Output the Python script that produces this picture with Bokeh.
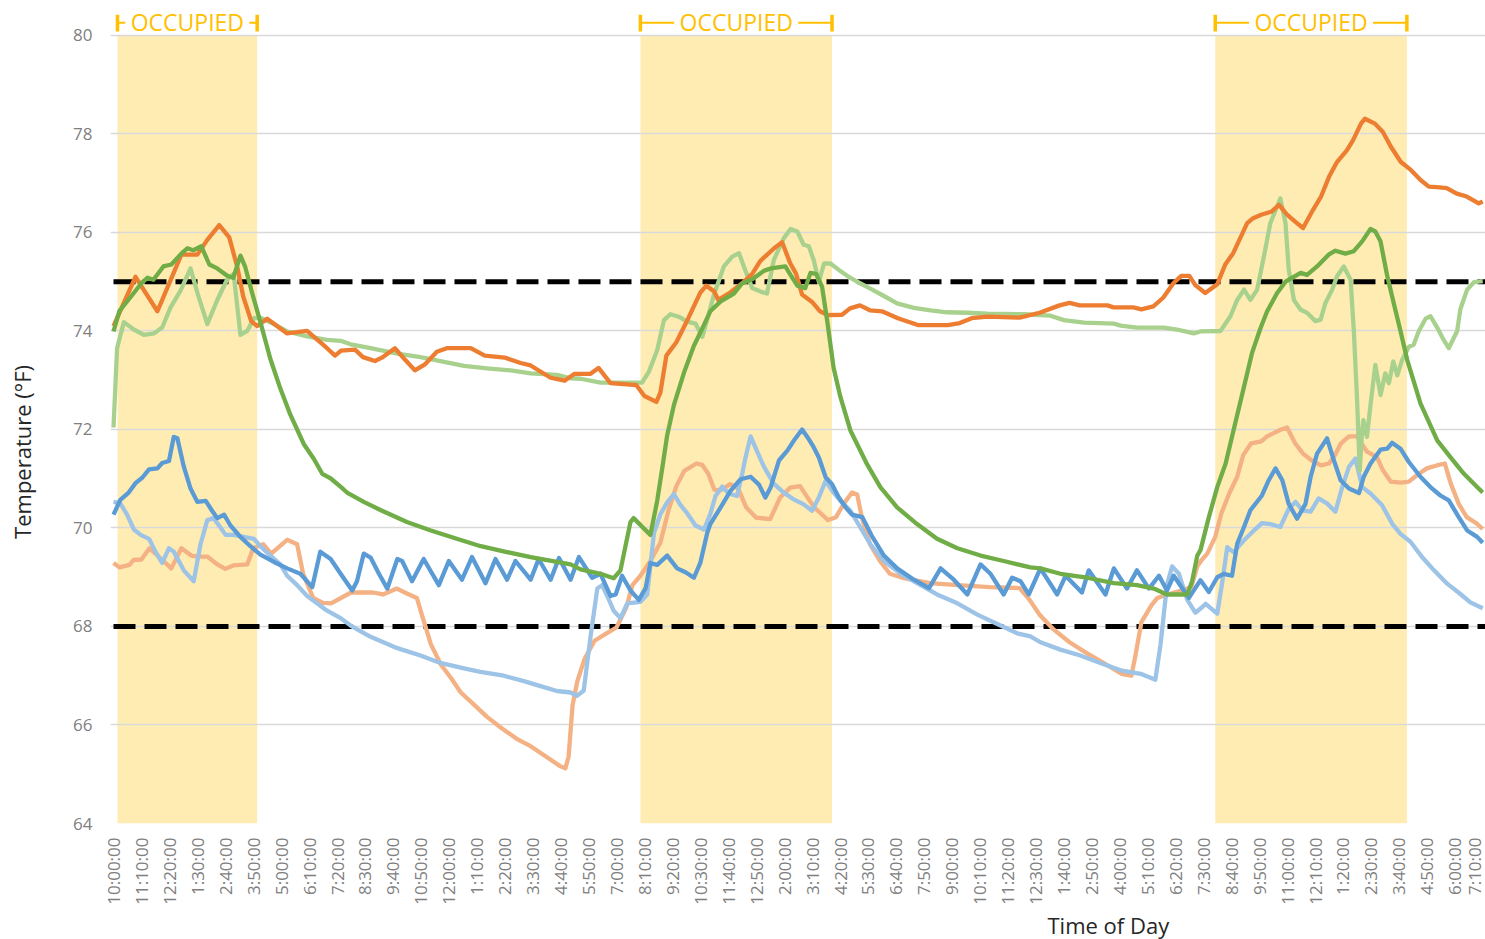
import math
from bokeh.plotting import figure
from bokeh.layouts import row
from bokeh.models import Range1d, FixedTicker, Title
from bokeh.embed import file_html
from bokeh.resources import INLINE
from bokeh.core.properties import value

# ---------------- data ----------------
# x = minutes since the first sample (10:00:00), one tick label every 70 minutes
tick_labels = ["10:00:00", "11:10:00", "12:20:00", "1:30:00", "2:40:00", "3:50:00", "5:00:00",
               "6:10:00", "7:20:00", "8:30:00", "9:40:00", "10:50:00", "12:00:00", "1:10:00",
               "2:20:00", "3:30:00", "4:40:00", "5:50:00", "7:00:00", "8:10:00", "9:20:00",
               "10:30:00", "11:40:00", "12:50:00", "2:00:00", "3:10:00", "4:20:00", "5:30:00",
               "6:40:00", "7:50:00", "9:00:00", "10:10:00", "11:20:00", "12:30:00", "1:40:00",
               "2:50:00", "4:00:00", "5:10:00", "6:20:00", "7:30:00", "8:40:00", "9:50:00",
               "11:00:00", "12:10:00", "1:20:00", "2:30:00", "3:40:00", "4:50:00", "6:00:00",
               "7:10:00"]
tick_step = 70

occupied_start = [10, 1320, 2760]
occupied_end = [360, 1800, 3240]
occupied_text = "OCCUPIED"

setpoints = [75, 68]

y_title = "Temperature (°F)"
x_title = "Time of Day"

dark_orange = [(0,74.10),(55,75.10),(110,74.40),(170,75.55),(210,75.55),(235,75.85),(265,76.15),(290,75.90),(310,75.30),(325,74.70),(345,74.20),(360,74.10),(385,74.25),(435,73.95),(485,74.00),(535,73.65),(555,73.50),(570,73.60),(605,73.62),(625,73.47),(655,73.39),(675,73.47),(705,73.65),(730,73.42),(755,73.20),(780,73.32),(810,73.58),(835,73.65),(895,73.65),(930,73.50),(980,73.46),(1020,73.35),(1045,73.30),(1095,73.05),(1130,72.99),(1155,73.13),(1195,73.13),(1215,73.25),(1245,72.94),(1310,72.90),(1330,72.68),(1360,72.56),(1370,72.75),(1385,73.50),(1410,73.77),(1440,74.26),(1470,74.78),(1485,74.92),(1505,74.80),(1515,74.63),(1545,74.78),(1575,74.97),(1600,75.16),(1620,75.42),(1655,75.68),(1675,75.80),(1695,75.38),(1710,75.16),(1725,74.74),(1750,74.59),(1770,74.40),(1790,74.32),(1825,74.33),(1845,74.46),(1870,74.52),(1895,74.42),(1925,74.40),(1965,74.26),(2015,74.12),(2090,74.12),(2120,74.16),(2150,74.26),(2190,74.29),(2270,74.27),(2320,74.37),(2370,74.52),(2395,74.57),(2420,74.52),(2490,74.52),(2505,74.48),(2555,74.48),(2575,74.44),(2605,74.50),(2630,74.68),(2655,74.97),(2675,75.12),(2695,75.12),(2710,74.93),(2735,74.77),(2765,74.95),(2785,75.35),(2805,75.58),(2840,76.19),(2855,76.29),(2875,76.36),(2900,76.42),(2920,76.56),(2940,76.36),(2960,76.22),(2980,76.09),(3005,76.46),(3025,76.73),(3045,77.13),(3065,77.43),(3090,77.67),(3105,77.87),(3125,78.21),(3135,78.31),(3160,78.21),(3180,78.04),(3200,77.74),(3225,77.43),(3250,77.27),(3275,77.06),(3295,76.93),(3315,76.92),(3340,76.90),(3365,76.79),(3390,76.73),(3420,76.59),(3430,76.63)]

light_orange = [(0,69.29),(15,69.20),(40,69.25),(50,69.35),(70,69.36),(90,69.59),(105,69.48),(125,69.33),(145,69.18),(170,69.59),(195,69.44),(210,69.42),(235,69.42),(260,69.26),(280,69.17),(300,69.24),(335,69.26),(350,69.59),(375,69.67),(395,69.48),(435,69.76),(460,69.67),(475,69.07),(500,68.58),(525,68.48),(545,68.47),(595,68.69),(650,68.69),(675,68.65),(710,68.77),(735,68.67),(760,68.58),(775,68.17),(795,67.64),(820,67.23),(845,66.96),(870,66.66),(905,66.40),(935,66.17),(970,65.95),(1010,65.72),(1045,65.57),(1085,65.35),(1120,65.16),(1132,65.12),(1140,65.35),(1150,66.40),(1162,66.89),(1180,67.34),(1205,67.71),(1235,67.86),(1260,67.98),(1285,68.39),(1300,68.84),(1320,69.03),(1345,69.33),(1370,69.70),(1390,70.35),(1410,70.85),(1430,71.16),(1460,71.31),(1475,71.28),(1490,71.10),(1505,70.78),(1520,70.76),(1545,70.89),(1565,70.80),(1585,70.42),(1610,70.21),(1645,70.18),(1670,70.62),(1695,70.82),(1720,70.85),(1740,70.60),(1755,70.42),(1770,70.31),(1790,70.16),(1810,70.22),(1830,70.50),(1850,70.72),(1863,70.68),(1875,70.20),(1895,69.67),(1920,69.33),(1945,69.07),(1980,68.98),(2045,68.88),(2115,68.84),(2195,68.80),(2270,68.78),(2295,68.54),(2320,68.24),(2355,67.94),(2395,67.68),(2440,67.45),(2480,67.26),(2525,67.04),(2550,67.00),(2560,67.41),(2575,68.09),(2600,68.43),(2615,68.58),(2640,68.65),(2675,68.73),(2700,68.80),(2715,69.22),(2725,69.34),(2740,69.48),(2760,69.82),(2775,70.29),(2795,70.70),(2815,71.04),(2830,71.48),(2850,71.72),(2875,71.76),(2890,71.86),(2905,71.92),(2925,72.00),(2940,72.04),(2960,71.72),(2980,71.51),(3000,71.38),(3025,71.27),(3045,71.31),(3060,71.48),(3075,71.72),(3095,71.86),(3115,71.86),(3140,71.55),(3165,71.44),(3180,71.17),(3200,70.94),(3225,70.92),(3245,70.94),(3265,71.07),(3290,71.21),(3315,71.27),(3335,71.31),(3350,70.90),(3370,70.49),(3390,70.22),(3415,70.09),(3430,69.98)]

dark_green = [(0,73.99),(15,74.41),(45,74.71),(70,74.97),(85,75.08),(100,75.04),(125,75.31),(145,75.35),(170,75.57),(185,75.68),(200,75.64),(220,75.72),(240,75.35),(260,75.27),(285,75.12),(300,75.08),(318,75.53),(330,75.30),(347,74.78),(368,74.18),(393,73.43),(418,72.83),(443,72.30),(477,71.70),(502,71.40),(523,71.10),(545,71.00),(570,70.83),(585,70.72),(627,70.53),(670,70.36),(735,70.12),(795,69.95),(860,69.78),(920,69.63),(980,69.52),(1045,69.41),(1080,69.36),(1145,69.26),(1170,69.16),(1220,69.07),(1253,68.98),(1270,69.14),(1295,70.12),(1303,70.20),(1325,70.02),(1345,69.86),(1362,70.55),(1375,71.23),(1387,71.88),(1404,72.50),(1429,73.15),(1454,73.70),(1479,74.12),(1495,74.40),(1521,74.60),(1554,74.76),(1575,74.97),(1600,75.05),(1629,75.22),(1646,75.27),(1683,75.31),(1696,75.14),(1713,74.92),(1733,74.87),(1746,75.18),(1760,75.16),(1775,74.90),(1788,74.20),(1804,73.25),(1821,72.66),(1846,71.98),(1888,71.29),(1921,70.83),(1963,70.42),(2013,70.08),(2063,69.78),(2114,69.59),(2172,69.44),(2230,69.33),(2297,69.20),(2322,69.18),(2372,69.07),(2439,68.99),(2506,68.88),(2564,68.84),(2606,68.77),(2639,68.65),(2690,68.65),(2702,68.92),(2715,69.44),(2723,69.55),(2744,70.22),(2765,70.83),(2786,71.31),(2806,71.99),(2832,72.87),(2852,73.55),(2873,74.05),(2890,74.40),(2915,74.77),(2936,75.00),(2974,75.18),(2990,75.14),(3015,75.31),(3044,75.55),(3061,75.63),(3086,75.57),(3107,75.62),(3128,75.82),(3149,76.07),(3161,76.02),(3174,75.82),(3191,75.11),(3207,74.57),(3224,74.00),(3241,73.41),(3274,72.53),(3316,71.78),(3349,71.44),(3383,71.10),(3416,70.83),(3430,70.72)]

light_green = [(0,72.04),(9,73.65),(26,74.18),(51,74.03),(76,73.92),(101,73.95),(122,74.07),(143,74.48),(168,74.82),(193,75.27),(210,74.78),(235,74.14),(260,74.63),(285,75.05),(301,75.16),(318,73.92),(335,74.00),(352,74.26),(368,74.27),(402,74.14),(435,73.99),(485,73.89),(535,73.82),(569,73.80),(594,73.73),(644,73.65),(711,73.54),(769,73.47),(819,73.39),(878,73.29),(936,73.24),(995,73.20),(1045,73.14),(1111,73.11),(1145,73.04),(1170,73.03),(1220,72.95),(1324,72.95),(1341,73.17),(1362,73.61),(1379,74.22),(1395,74.34),(1416,74.29),(1437,74.19),(1458,74.15),(1475,73.88),(1487,74.22),(1504,74.73),(1529,75.31),(1550,75.51),(1567,75.58),(1579,75.31),(1600,74.87),(1621,74.80),(1637,74.76),(1654,75.44),(1679,75.88),(1696,76.07),(1713,76.02),(1729,75.75),(1742,75.72),(1754,75.44),(1767,75.00),(1780,75.37),(1796,75.37),(1817,75.24),(1838,75.12),(1863,75.00),(1896,74.86),(1930,74.71),(1963,74.56),(2005,74.47),(2047,74.42),(2088,74.38),(2139,74.37),(2189,74.35),(2281,74.34),(2347,74.31),(2381,74.22),(2431,74.17),(2506,74.15),(2523,74.11),(2564,74.07),(2631,74.07),(2664,74.03),(2706,73.95),(2723,73.99),(2773,74.00),(2798,74.30),(2815,74.63),(2832,74.84),(2848,74.63),(2865,74.84),(2882,75.52),(2898,76.19),(2923,76.69),(2936,76.19),(2944,75.25),(2957,74.63),(2974,74.43),(2990,74.37),(3011,74.20),(3024,74.23),(3036,74.57),(3053,74.84),(3065,75.11),(3082,75.31),(3099,75.04),(3107,74.03),(3115,72.66),(3122,71.17),(3127,71.85),(3131,72.19),(3140,71.85),(3149,72.50),(3161,73.31),(3174,72.70),(3186,73.14),(3195,72.94),(3206,73.38),(3216,73.10),(3228,73.41),(3245,73.68),(3257,73.72),(3270,74.00),(3287,74.25),(3299,74.30),(3316,74.07),(3330,73.85),(3345,73.65),(3366,74.00),(3374,74.44),(3391,74.84),(3408,74.99),(3430,75.01)]

dark_blue = [(0,70.27),(17,70.57),(38,70.72),(55,70.91),(72,71.02),(89,71.19),(110,71.21),(122,71.32),(139,71.36),(151,71.85),(160,71.82),(176,71.25),(193,70.80),(210,70.53),(231,70.55),(247,70.35),(260,70.20),(277,70.27),(293,70.05),(318,69.82),(343,69.63),(368,69.46),(402,69.31),(435,69.18),(468,69.07),(498,68.80),(518,69.52),(544,69.37),(569,69.07),(598,68.73),(610,68.92),(627,69.48),(644,69.40),(665,69.07),(686,68.77),(711,69.37),(723,69.33),(748,68.92),(777,69.37),(815,68.84),(840,69.33),(873,68.95),(898,69.41),(932,68.88),(957,69.37),(986,68.95),(1007,69.33),(1045,68.95),(1065,69.37),(1095,68.95),(1116,69.39),(1145,68.95),(1166,69.41),(1199,68.99),(1220,69.07),(1245,68.62),(1258,68.65),(1274,69.03),(1295,68.73),(1316,68.54),(1333,68.78),(1345,69.29),(1362,69.25),(1387,69.44),(1412,69.18),(1433,69.10),(1454,68.99),(1470,69.29),(1487,69.89),(1495,70.08),(1521,70.42),(1546,70.76),(1571,70.99),(1596,71.04),(1617,70.88),(1633,70.62),(1646,70.82),(1667,71.37),(1688,71.57),(1704,71.77),(1725,72.00),(1742,71.80),(1754,71.64),(1767,71.43),(1784,71.03),(1800,70.89),(1817,70.62),(1834,70.42),(1850,70.27),(1876,70.22),(1901,69.82),(1930,69.44),(1963,69.18),(2005,68.95),(2043,68.78),(2072,69.18),(2105,68.95),(2139,68.65),(2172,69.26),(2197,69.07),(2230,68.65),(2251,68.99),(2272,68.92),(2293,68.65),(2322,69.18),(2364,68.65),(2385,69.03),(2426,68.69),(2443,69.14),(2485,68.65),(2506,69.18),(2539,68.77),(2564,69.14),(2594,68.77),(2619,69.03),(2639,68.73),(2656,69.03),(2694,68.58),(2723,68.94),(2744,68.70),(2765,69.00),(2781,69.07),(2802,69.03),(2815,69.68),(2832,70.02),(2848,70.36),(2877,70.66),(2894,70.97),(2911,71.21),(2928,70.97),(2944,70.49),(2965,70.19),(2986,70.49),(2999,71.04),(3015,71.51),(3040,71.82),(3057,71.38),(3074,70.97),(3095,70.80),(3120,70.71),(3132,71.04),(3149,71.31),(3174,71.59),(3191,71.61),(3203,71.73),(3224,71.61),(3245,71.34),(3274,71.04),(3299,70.83),(3324,70.66),(3345,70.56),(3370,70.22),(3391,69.95),(3416,69.82),(3430,69.70)]

light_blue = [(0,70.53),(17,70.50),(34,70.27),(51,69.97),(68,69.86),(89,69.78),(105,69.52),(122,69.29),(139,69.59),(151,69.52),(176,69.14),(201,68.92),(218,69.67),(235,70.16),(251,70.20),(268,70.01),(281,69.86),(301,69.86),(326,69.82),(352,69.78),(368,69.63),(393,69.44),(418,69.26),(435,69.03),(460,68.84),(485,68.62),(510,68.47),(535,68.32),(569,68.17),(594,68.02),(644,67.79),(711,67.56),(769,67.41),(819,67.26),(878,67.15),(919,67.08),(978,67.00),(1028,66.89),(1078,66.77),(1111,66.69),(1145,66.66),(1161,66.59),(1178,66.70),(1195,67.79),(1212,68.77),(1224,68.84),(1237,68.62),(1253,68.32),(1270,68.17),(1287,68.47),(1320,68.50),(1337,68.65),(1354,69.90),(1370,70.28),(1387,70.52),(1404,70.69),(1420,70.47),(1437,70.30),(1458,70.05),(1479,69.97),(1495,70.28),(1508,70.65),(1525,70.84),(1541,70.70),(1562,70.65),(1575,71.10),(1583,71.42),(1596,71.86),(1612,71.56),(1629,71.25),(1654,70.90),(1679,70.72),(1704,70.58),(1729,70.48),(1750,70.35),(1767,70.62),(1784,70.96),(1800,70.76),(1821,70.55),(1846,70.35),(1863,70.12),(1896,69.67),(1930,69.33),(1972,69.07),(2022,68.84),(2063,68.65),(2114,68.47),(2164,68.24),(2214,68.05),(2264,67.86),(2297,67.80),(2322,67.68),(2372,67.53),(2422,67.41),(2472,67.26),(2523,67.11),(2573,67.04),(2610,66.92),(2623,67.64),(2639,68.84),(2652,69.22),(2669,69.07),(2690,68.54),(2710,68.28),(2727,68.39),(2736,68.46),(2765,68.26),(2777,68.87),(2790,69.61),(2806,69.51),(2832,69.75),(2857,69.95),(2877,70.10),(2898,70.08),(2923,70.02),(2944,70.39),(2961,70.53),(2978,70.36),(2999,70.33),(3019,70.60),(3040,70.50),(3061,70.33),(3078,70.83),(3095,71.24),(3111,71.41),(3128,70.83),(3149,70.70),(3178,70.46),(3203,70.09),(3224,69.88),(3249,69.72),(3278,69.41),(3308,69.14),(3341,68.87),(3374,68.66),(3399,68.49),(3430,68.37)]

series = [
    (light_orange, "#F4B183"),
    (light_blue, "#9DC3E6"),
    (dark_blue, "#5B9BD5"),
    (light_green, "#A9D18E"),
    (dark_orange, "#ED7D31"),
    (dark_green, "#70AD47"),
]

# ---------------- layout ----------------
W, H = 1485, 939
SIDE = 62                 # narrow strip holding the vertical axis title
FRAME_LEFT = 110          # page x of the plot frame's left edge
BB = 115
FRAME_H = H - BB          # frame height (the row aligns both frames)
X0, X1 = -7.5, 3437.0
Y0, Y1 = 64.0, 80.71
FONT = "Open Sans"

# strip with the y-axis title (pixel-unit ranges matching its aligned frame)
side = figure(width=SIDE, height=H, output_backend="svg", toolbar_location=None, title=None,
              x_range=Range1d(0, SIDE), y_range=Range1d(0, FRAME_H),
              x_axis_location=None, y_axis_location=None, min_border=0)
side.outline_line_color = None
side.grid.visible = False
side.background_fill_color = "white"
side.border_fill_color = "white"
side.text(x=[21], y=[FRAME_H - 452], text=[y_title], angle=math.pi / 2,
          text_font=value(FONT), text_font_size="22px", text_color="#262626",
          text_align="center", text_baseline="middle")

PW = W - SIDE
BL = FRAME_LEFT - SIDE
p = figure(width=PW, height=H, output_backend="svg", toolbar_location=None, title=None,
           x_range=Range1d(X0, X1), y_range=Range1d(Y0, Y1),
           min_border_left=BL, min_border_right=0, min_border_top=0, min_border_bottom=BB)
p.outline_line_color = None
p.background_fill_color = "white"
p.border_fill_color = "white"

frame_w = PW - BL
min_per_px = (X1 - X0) / frame_w

# occupied shading
p.quad(left=occupied_start, right=occupied_end, bottom=Y0, top=80,
       fill_color="#FFECB3", line_color=None, level="image")

# axes
ticks = [i * tick_step for i in range(len(tick_labels))]
p.xaxis.ticker = FixedTicker(ticks=ticks)
p.xaxis.major_label_overrides = {t: lab for t, lab in zip(ticks, tick_labels)}
p.xaxis.major_label_orientation = math.pi / 2
p.xaxis.major_label_standoff = 14
p.yaxis.ticker = FixedTicker(ticks=list(range(64, 81, 2)))
p.yaxis.major_label_standoff = 18
for ax in (p.xaxis, p.yaxis):
    ax.axis_line_color = None
    ax.major_tick_line_color = None
    ax.minor_tick_line_color = None
    ax.major_tick_out = 0
    ax.major_tick_in = 0
    ax.minor_tick_out = 0
    ax.minor_tick_in = 0
    ax.major_label_text_font = FONT
    ax.major_label_text_font_size = "17px"
    ax.major_label_text_color = "#808080"
p.xgrid.visible = False
p.ygrid.grid_line_color = "#D9D9D9"
p.ygrid.grid_line_width = 1.3

# setpoint lines
for sp in setpoints:
    p.line([0, X1], [sp, sp], line_color="black", line_width=5, line_dash="22 9")

# series
for data, col in series:
    xs = [d[0] for d in data]
    ys = [d[1] for d in data]
    p.line(xs, ys, line_color=col, line_width=4.3, line_join="round")

# OCCUPIED brackets
gold = "#FFC000"
y_lab = 80.26
y_txt = 80.265
half_txt = 62 * min_per_px
centers = [(s + e) / 2 for s, e in zip(occupied_start, occupied_end)]
x0s, x1s = [], []
for s, e, c in zip(occupied_start, occupied_end, centers):
    x0s += [s, c + half_txt]
    x1s += [c - half_txt, e]
p.segment(x0=x0s, y0=[y_lab] * len(x0s), x1=x1s, y1=[y_lab] * len(x0s),
          line_color=gold, line_width=2)
bar_x = occupied_start + occupied_end
p.segment(x0=bar_x, y0=[80.08] * len(bar_x), x1=bar_x, y1=[80.42] * len(bar_x),
          line_color=gold, line_width=3.5)
p.text(x=centers, y=[y_txt] * len(centers), text=[occupied_text] * len(centers),
       text_font=value(FONT), text_font_size="23px", text_color=gold,
       text_align="center", text_baseline="middle")

# x-axis title, placed off-centre like the original
p.add_layout(Title(text=x_title, align="left", offset=1047 - FRAME_LEFT,
                   text_font=FONT, text_font_size="22px", text_font_style="normal",
                   text_color="#262626", standoff=0), "below")

layout = row(side, p, spacing=0)
open("out.html", "w").write(file_html(layout, INLINE))
